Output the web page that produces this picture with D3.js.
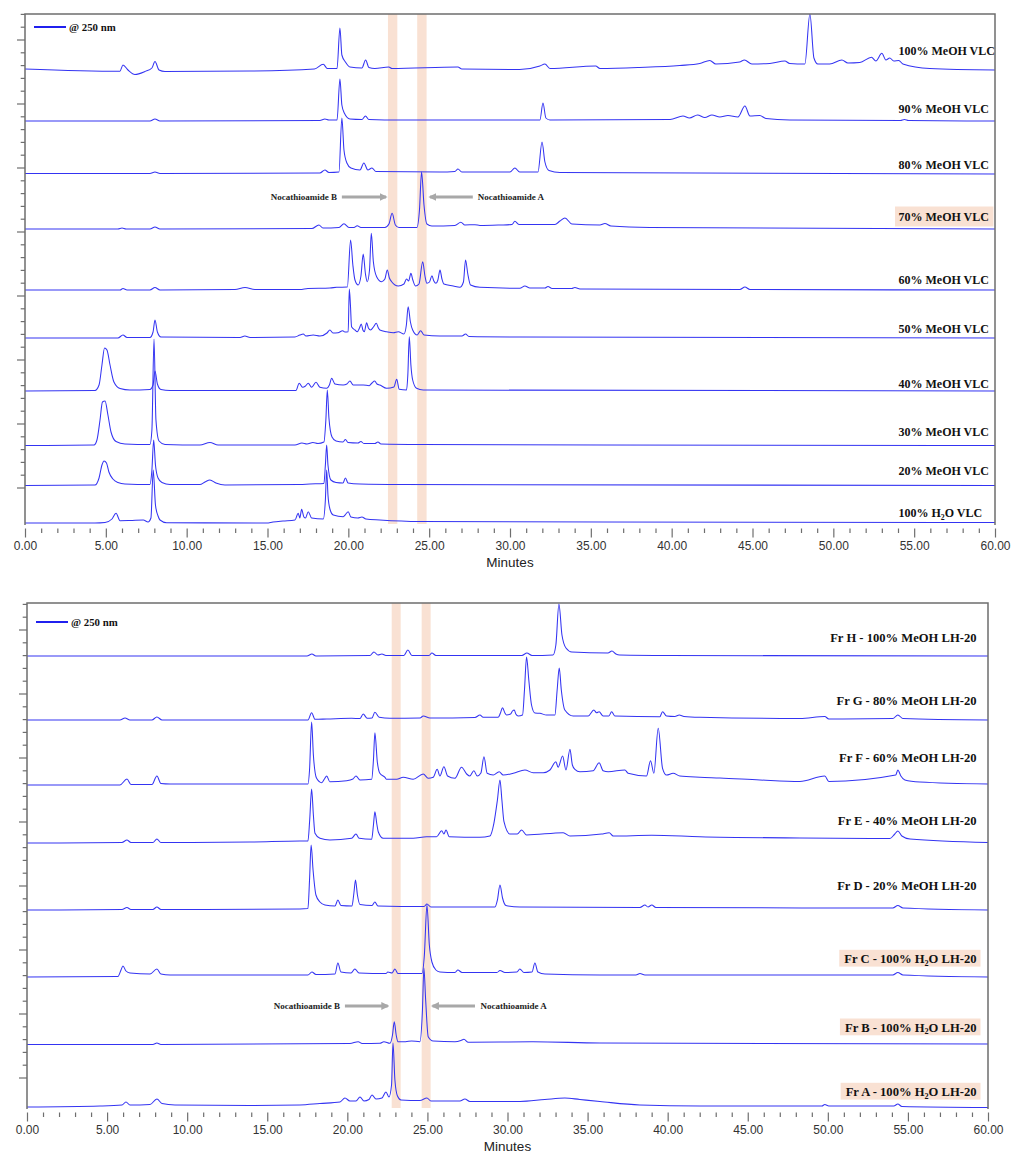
<!DOCTYPE html>
<html>
<head>
<meta charset="utf-8">
<script src="https://cdn.jsdelivr.net/npm/d3@7"></script>
<style>
    body { margin: 0; background: #fff; }
    svg text { font-family: "Liberation Serif", "Times New Roman", serif; }
    .axis text { font-family: "Liberation Sans", Arial, sans-serif; fill: #333; }
</style>
</head>
<body>
<div id="chart"></div>
<script>
"use strict"

/*
    two stacked HPLC panels (VLC fractions, LH-20 fractions) @ 250 nm
    each trace: [minutes, height above its own baseline]
*/

// ---- VLC fractions (top panel) ----
const vlcLabels = ["100% MeOH VLC", "90% MeOH VLC", "80% MeOH VLC", "70% MeOH VLC", "60% MeOH VLC",
                   "50% MeOH VLC", "40% MeOH VLC", "30% MeOH VLC", "20% MeOH VLC", "100% H2O VLC"]
const vlcBase = [454, 403, 350, 295, 234, 186, 133, 78.5, 38.5, 1]
const vlcBoxed = [false, false, false, true, false, false, false, false, false, false]
const vlcBands = [[22.45, 23.03], [24.26, 24.84]]

const meoh100 = [[0,1],[5.87,-1.3],[6.06,5],[6.37,0],[6.8,-4.5],[7.42,-1.5],[7.85,2],[8.04,8.5],[8.29,0],[8.66,-1.5],[13.9,-1],[17.9,1],[18.45,5.7],[18.7,1.5],[19.3,1.5],[19.48,42],[19.6,15],[19.82,8],[20.1,3],[20.84,2],[21.07,10],[21.27,2.5],[21.64,1.5],[22.5,3],[22.7,1.5],[26.78,3],[27.02,1],[30.6,0.5],[31.85,4],[32.16,6],[32.47,1.5],[35.3,4],[35.56,1.5],[38.0,2.5],[40.5,4.5],[41.74,6.5],[42.36,9.5],[42.73,6],[44.2,8],[44.5,10],[44.96,6],[46.07,6.5],[47.0,9],[47.3,6.5],[48.24,6],[48.55,56],[48.8,12],[49.04,6],[49.78,6],[50.53,10],[50.9,7],[51.64,7.5],[52.36,12.7],[52.63,9],[53.0,16.7],[53.25,10],[53.49,12],[53.74,9],[54.05,9.5],[54.3,6],[55.97,1.5],[60,0]]
const meoh90 = [[0,0],[7.73,0],[8.04,2],[8.35,0],[18.24,0.5],[18.55,2],[18.8,1],[19.3,1],[19.48,42],[19.6,16],[19.75,8],[20.1,2],[20.84,1.5],[21.06,5],[21.27,1.5],[23.2,1],[31.85,1],[32.04,18],[32.22,3],[32.47,1],[39.9,1.5],[40.7,5],[41.1,3],[41.6,6],[42.05,3.5],[42.49,6],[42.98,4],[43.48,5.5],[44.1,4],[44.53,15],[44.84,5],[45.45,5.5],[45.83,2.5],[47.3,1],[54.15,0.5],[54.4,1.5],[54.65,0.5],[60,0]]
const meoh80 = [[0,0.5],[7.73,0.5],[8.04,2],[8.35,0.5],[18.24,1],[18.55,4],[18.8,1.5],[19.42,2],[19.6,56],[19.73,24],[19.91,11],[20.16,6],[20.72,4],[20.96,11],[21.21,4],[21.46,6],[21.71,2.5],[25.66,2],[26.59,2.5],[26.78,5],[27.02,2],[30.0,2],[30.3,6],[30.6,2],[31.73,2],[31.98,32],[32.16,12],[32.41,3.5],[33.09,1.5],[60,0]]
const meoh70 = [[0,0],[5.75,0],[6.0,1],[6.25,0],[7.73,0],[8.04,2],[8.35,0],[17.75,0.5],[18.18,4],[18.43,1],[19.42,1.5],[19.73,5.3],[20.04,1.5],[20.35,1.5],[20.55,3.3],[20.78,1.5],[22.26,1.5],[22.51,5],[22.71,15.7],[22.91,4],[23.13,1.5],[24.24,1.5],[24.4,19],[24.53,57],[24.68,24],[24.86,5],[25.17,3],[26.59,3.5],[26.96,6.7],[27.21,4],[27.83,4.3],[28.14,3.5],[29.38,4],[30.12,4.5],[30.3,7.7],[30.55,4.5],[32.78,4.5],[33.09,8],[33.4,11],[33.83,5],[35.56,4],[35.87,5.5],[36.24,3],[38.65,1.5],[60,0]]
const meoh60 = [[0,0],[5.88,0],[6.06,1.5],[6.31,0],[7.73,0],[8.04,2.5],[8.35,0],[12.99,0.5],[13.61,2.5],[14.22,0.5],[17.01,0.5],[17.5,1.5],[18.86,2],[19.28,2.7],[19.94,3],[20.14,50],[20.28,25],[20.41,10],[20.61,5],[20.78,14],[20.92,36],[21.06,16],[21.17,8.3],[21.31,20],[21.42,56.7],[21.55,28],[21.75,13.3],[22.06,8.3],[22.26,11],[22.41,20],[22.54,12],[22.68,8.3],[23.09,4],[23.44,6],[23.6,11],[23.73,9],[23.87,16.7],[23.99,10],[24.16,4],[24.37,6],[24.6,28.3],[24.74,14],[24.86,6.7],[25.02,8],[25.17,14.3],[25.29,9],[25.42,6.7],[25.54,10],[25.67,20],[25.79,11],[25.91,6],[26.49,4],[26.9,2.7],[27.12,8],[27.25,30],[27.39,16],[27.56,5],[28.14,2.7],[30.61,1.7],[30.92,4],[31.23,2],[32.16,2],[32.35,3.5],[32.6,1.5],[33.82,1.5],[34.01,2.5],[34.33,1],[44.22,0.5],[44.53,3],[44.84,0.5],[60,0]]
const meoh50 = [[0,0],[5.75,0],[6.06,3],[6.31,0.5],[7.73,0.5],[7.92,6],[8.04,18],[8.19,6],[8.41,1],[13.3,0.5],[13.6,2],[13.92,0.5],[16.7,1],[17.0,3],[17.21,4],[17.38,2],[17.83,3],[18.24,2],[18.68,5],[18.86,8],[19.05,5],[19.36,5.3],[19.65,7.3],[19.79,6],[19.99,6.3],[20.06,49],[20.13,33],[20.2,11.3],[20.41,8],[20.55,6.3],[20.69,10],[20.8,14],[20.9,8],[20.99,6.3],[21.13,15.3],[21.24,10],[21.38,8],[21.55,11],[21.73,14.7],[21.86,10],[21.95,8],[22.37,6.3],[22.78,5.3],[23.09,6.3],[23.44,4],[23.59,13],[23.7,31.3],[23.84,16],[23.98,8],[24.26,3],[24.47,7.3],[24.68,3],[25.66,2],[27.03,2],[27.25,4],[27.46,1.5],[30.6,1],[60,0]]
const meoh40 = [[0,0],[4.33,0.5],[4.58,6],[4.76,26],[4.92,43],[5.07,41],[5.26,26],[5.5,9],[5.88,2.5],[6.49,1],[7.73,1.5],[7.92,6],[8.04,20],[8.19,7],[8.41,1.5],[8.97,0.5],[16.76,0.5],[16.96,7.7],[17.17,3.7],[17.35,5],[17.52,7.7],[17.73,3.7],[18.0,8.7],[18.24,3.7],[18.66,2.7],[18.83,6],[18.97,12.7],[19.17,7],[19.68,6],[19.91,7],[20.1,10],[20.3,6],[20.92,6],[21.29,5.3],[21.46,8],[21.63,10],[21.77,7],[21.95,6],[22.37,2.7],[22.82,4],[22.99,11.7],[23.15,1.7],[23.6,1],[23.68,16],[23.77,54.3],[23.87,26],[23.98,11],[24.22,2.7],[24.63,1],[60,0]]
const meoh30 = [[0,0],[4.27,0.5],[4.45,5.5],[4.64,25.5],[4.79,43.5],[4.95,44.5],[5.13,30.5],[5.32,13.5],[5.63,4],[6.18,1.5],[7.73,1],[7.85,15.5],[7.98,106.5],[8.1,25.5],[8.29,4.5],[8.66,1],[10.82,0.5],[11.44,3],[11.94,0.5],[16.7,0.5],[17.13,2.5],[17.44,1.5],[17.81,3],[18.12,2],[18.49,3.5],[18.61,25.5],[18.7,55.5],[18.8,27.5],[18.99,8.5],[19.24,4.5],[19.67,3.5],[19.82,6],[19.98,3],[20.59,2.5],[20.78,4],[20.96,2],[21.64,2],[21.83,3.5],[22.02,1.5],[24.43,1],[60,0]]
const meoh20 = [[0,0],[4.33,0.5],[4.58,7.5],[4.76,20.5],[4.89,24.5],[5.04,22.5],[5.19,13.5],[5.44,6.5],[5.75,3],[6.18,1.5],[7.73,1],[7.85,15.5],[7.96,45.5],[8.07,20.5],[8.23,7.5],[8.47,3],[8.97,1],[10.82,1],[11.13,3.5],[11.44,5.5],[11.81,2.5],[12.37,0.5],[17.0,1],[17.62,1.5],[18.49,2],[18.58,20.5],[18.66,40.5],[18.74,20.5],[18.92,5.5],[19.24,3],[19.67,2.5],[19.82,7.5],[19.98,2.5],[20.72,1.5],[23.19,1],[60,0]]
const h2oVlc = [[0,0],[4.33,0],[4.95,0.5],[5.38,4],[5.63,9.7],[5.88,2.3],[6.49,2.5],[7.32,3],[7.61,1],[7.79,5],[7.93,53],[8.07,18],[8.23,7],[8.35,3],[8.76,0.3],[14.95,0],[15.34,1],[15.96,2],[16.7,3],[16.9,9.7],[17.0,5],[17.11,13.7],[17.25,6],[17.35,5],[17.52,11.3],[17.73,5],[18.45,4],[18.58,23],[18.66,53],[18.74,28],[18.86,14],[19.07,8],[19.68,6.3],[19.85,9],[19.99,11.3],[20.16,6],[20.59,5],[20.84,6],[21.09,4],[21.95,3],[24.43,1.5],[60,0.5]]
const vlcTraces = [meoh100, meoh90, meoh80, meoh70, meoh60, meoh50, meoh40, meoh30, meoh20, h2oVlc]

// ---- LH-20 fractions (bottom panel) ----
const lhLabels = ["Fr H - 100% MeOH LH-20", "Fr G - 80% MeOH LH-20", "Fr F - 60% MeOH LH-20", "Fr E - 40% MeOH LH-20",
                  "Fr D - 20% MeOH LH-20", "Fr C - 100% H2O LH-20", "Fr B - 100% H2O LH-20", "Fr A - 100% H2O LH-20"]
const lhBase = [452, 388, 323, 265, 198, 131, 64, 1]
const lhBoxed = [false, false, false, false, false, true, true, true]
const lhBands = [[22.77, 23.33], [24.64, 25.2]]

const frH = [[0,0],[17.48,0],[17.79,2],[18.04,0],[21.41,0.5],[21.66,4],[21.91,1],[22.16,2],[22.41,0.5],[23.53,0.5],[23.78,6],[24.03,0.5],[25.1,0.5],[25.28,3],[25.53,0.5],[30.9,0.5],[31.21,3],[31.53,0.5],[32.84,1],[33.02,11],[33.21,52],[33.4,21],[33.65,8],[34.02,4],[36.27,3],[36.52,5],[36.77,2],[37.0,1],[40.0,0.5],[60,0]]
const frG = [[0,0],[5.8,0],[6.12,2],[6.43,0],[7.8,0],[8.11,3],[8.43,0],[17.54,0],[17.77,7.3],[17.98,0.7],[18.71,1],[20.27,1.7],[20.79,1.5],[20.99,6],[21.24,1.7],[21.54,2],[21.72,7.7],[21.99,2.7],[22.66,1.7],[24.54,2],[24.74,4],[25.16,2],[27.97,2.5],[28.28,5],[28.48,2.7],[29.42,2.7],[29.56,7],[29.69,12.3],[29.84,7],[29.94,5],[30.19,6],[30.31,9],[30.42,10],[30.52,6],[30.67,4],[30.94,5],[31.06,30],[31.19,63],[31.33,40],[31.5,15],[31.71,7],[32.02,6.7],[32.44,5],[32.96,5],[33.1,30],[33.23,52],[33.36,30],[33.58,10],[34.1,4],[35.04,4],[35.39,10],[35.56,7.3],[35.72,8.3],[35.97,4],[36.33,4],[36.5,8.3],[36.7,4],[39.51,3.3],[39.68,8.3],[39.93,4],[40.45,3.5],[40.72,5],[41.02,3.5],[42.01,2.7],[48.26,1.5],[49.81,3.5],[50.06,1],[54.06,1.5],[54.37,5],[54.69,1.5],[60,0]]
const frF = [[0,0],[5.8,0],[6.24,6],[6.49,0.5],[7.8,0.5],[8.11,9],[8.36,1.5],[8.93,1],[17.54,1],[17.64,15],[17.77,63],[17.88,30],[18.08,6.7],[18.4,2.3],[18.57,6],[18.71,9],[18.91,3.3],[19.96,4.3],[20.35,6],[20.54,9],[20.79,5],[21.52,5.7],[21.63,25],[21.72,52.3],[21.87,23.3],[22.03,11.7],[22.35,7.7],[22.45,5.7],[23.08,5.7],[23.49,7.7],[24.11,5.7],[24.74,11],[25.05,6.7],[25.36,7.7],[25.61,15.7],[25.78,9],[26.03,18.3],[26.26,9],[26.72,6.7],[27.13,17.7],[27.45,11],[27.65,9],[27.9,14.3],[28.11,9],[28.34,12],[28.53,28.3],[28.73,11.7],[29.11,10],[29.48,13.3],[29.73,10],[30.36,11.7],[31.09,15],[31.6,12.3],[32.23,12.3],[32.65,15],[33.02,23.3],[33.16,17.7],[33.44,29],[33.65,15],[33.9,35.7],[34.05,20],[34.21,15.7],[34.52,13.3],[35.35,14.3],[35.72,22.3],[35.97,14.3],[36.29,13.3],[37.33,15],[37.53,11.7],[38.68,9],[38.93,24.3],[39.14,11.7],[39.41,56.7],[39.68,16.7],[39.93,10],[40.34,11.7],[40.76,9],[42.01,7.7],[43.26,7],[45.76,5],[48.25,3.5],[49.81,9],[50.06,3.5],[54.24,10],[54.37,15],[54.56,9],[54.81,5],[55.75,3],[60,1]]
const frE = [[0,0],[5.93,0.5],[6.24,3],[6.49,0.5],[7.86,0.5],[8.11,4],[8.36,0.5],[13.92,1],[17.04,2],[17.54,2],[17.65,23],[17.77,54],[17.88,28],[17.98,9.7],[18.29,4.7],[18.91,3],[20.27,4.7],[20.54,9],[20.74,4.7],[21.52,3.7],[21.63,18],[21.72,31.3],[21.85,18],[21.93,11.3],[22.24,4.7],[24.11,4.7],[24.95,6.3],[25.57,6.3],[25.89,12.3],[26.03,9],[26.16,13],[26.36,6.3],[28.28,5.7],[28.9,7],[29.15,19.7],[29.37,43],[29.53,63],[29.65,43],[29.78,21.3],[30.15,9],[30.61,9],[30.88,13],[31.19,8],[33.48,10.3],[33.9,7],[35.87,9],[36.35,10.3],[36.6,7],[39.0,7.7],[42.01,6.3],[48.26,5],[53.88,4.5],[54.18,9],[54.37,12],[54.62,7],[55.13,4],[60,0.5]]
const frD = [[0,0],[5.93,0.5],[6.24,2.5],[6.49,0.5],[7.86,0.5],[8.11,3],[8.36,0.5],[17.04,1],[17.54,1.5],[17.64,30],[17.74,65],[17.86,40],[18.04,15],[18.29,8],[18.6,5],[19.23,4],[19.41,10],[19.6,4.5],[20.29,4],[20.41,17],[20.51,30],[20.63,15],[20.79,5.5],[21.54,4.5],[21.72,8],[21.91,4],[24.79,3.5],[24.97,6],[25.22,3],[29.22,3],[29.37,10],[29.53,25],[29.69,12],[29.9,4.5],[30.78,3],[38.27,2.5],[38.58,5],[38.77,3],[39.01,5],[39.26,2.5],[54.06,2],[54.37,4.5],[54.69,2],[60,0]]
const frC = [[0,0],[5.68,0.5],[5.87,7],[5.99,11],[6.18,6],[6.43,4],[7.68,3],[8.11,8],[8.36,3],[8.93,2],[17.54,2],[17.79,5],[18.04,2.5],[19.23,3],[19.41,14],[19.6,5],[20.23,4],[20.47,8],[20.73,4],[22.41,3.5],[22.53,5],[22.79,4],[22.97,8],[23.16,3.5],[24.66,3.5],[24.81,22],[24.97,72],[25.12,32],[25.28,15],[25.53,7],[25.78,5],[26.72,4.5],[26.9,7],[27.16,4.5],[29.34,4.5],[29.53,6.5],[29.84,4.5],[30.59,5],[30.77,8],[31.03,4.5],[31.53,5],[31.71,14],[31.9,5],[32.34,3],[35.77,2],[38.02,2],[38.27,3.5],[38.58,2],[54.06,2],[54.37,4.5],[54.69,2],[60,0]]
const frB = [[0,-0.5],[7.86,-0.5],[8.11,1],[8.36,-0.5],[20.16,0.5],[20.68,2.3],[20.92,0.5],[22.04,0.7],[22.28,2.3],[22.66,0.7],[22.82,9],[22.93,22.3],[23.05,9],[23.16,2.3],[23.64,2.3],[24.01,3],[24.53,2.3],[24.69,34],[24.78,76],[24.89,44],[25.05,7.3],[25.36,3],[26.72,2.3],[27.09,3.5],[27.28,4.7],[27.55,1.7],[31.6,2.3],[35.77,1],[60,0]]
const frA = [[0,0],[4.56,1],[5.93,2],[6.18,5],[6.43,2],[7.68,2.5],[8.11,8],[8.43,3.5],[9.24,2],[13.92,1.5],[17.04,2],[18.29,3.5],[19.54,5],[19.85,9],[20.16,6],[20.54,6],[20.79,10],[21.04,6],[21.35,7.5],[21.54,12],[21.79,8],[22.16,9],[22.41,15],[22.6,10],[22.76,22],[22.85,64],[22.97,27],[23.13,11],[23.35,7],[24.53,6.5],[24.97,9],[25.22,6],[27.03,6],[27.34,8],[27.65,5.5],[30.78,5.5],[32.33,7.5],[33.58,9],[34.52,7.5],[35.77,5.5],[38.26,2],[42.01,1],[49.63,1],[49.81,2.5],[50.06,1],[54.12,1],[54.37,3],[54.62,0.5],[60,-0.5]]
const lhTraces = [frH, frG, frF, frE, frD, frC, frB, frA]

// axis
const xMajor = d3.range(0, 61, 5)
const xMinor = d3.range(0, 61, 1).filter(d => d % 5 !== 0)

// ---------------- drawing ----------------
const W = 1011, H = 1155
const traceColor = "#3434f2"
const frameColor = "#6e6e6e"
const peach = "#f9e1d3"
const arrowGrey = "#a8a8a8"

const svg = d3.select("#chart").append("svg")
    .attr("width", W).attr("height", H)
    .attr("viewBox", `0 0 ${ W } ${ H }`)

svg.append("defs").append("marker")
    .attr("id", "head")
    .attr("markerUnits", "userSpaceOnUse")
    .attr("viewBox", "0 0 10 10")
    .attr("refX", 8).attr("refY", 5)
    .attr("markerWidth", 8).attr("markerHeight", 8)
    .attr("orient", "auto")
  .append("path")
    .attr("d", "M0,0 L10,5 L0,10 Z")
    .attr("fill", arrowGrey)

const panels = [
    {
        key: "vlc", l: 25, r: 995, t: 14, b: 524, vmax: 510, tick0: 36,
        labels: vlcLabels, bases: vlcBase, traces: vlcTraces, boxed: vlcBoxed, bands: vlcBands,
        lift: [15, 8.3, 5, 8.5, 6, 5, 3, 9.7, 10.5, 6],
        anchor: "start", labelX: 898.5, fontSize: 12, boxUp: 14, boxDown: 6, padL: 3.5, padR: 4.5,
        legend: { x: 34, y: 27 },
        arrows: { v: 327, bTail: 19.6, bHead: 22.33, bText: 19.3, aTail: 27.7, aHead: 25.05, aText: 28.0 },
        tickLabelY: 549.5, minutesY: 567
    },
    {
        key: "lh", l: 27, r: 988, t: 603, b: 1108, vmax: 505, tick0: 30,
        labels: lhLabels, bases: lhBase, traces: lhTraces, boxed: lhBoxed, bands: lhBands,
        lift: [14, 15, 23, 18, 20, 14, 12.3, 11],
        anchor: "end", labelX: 976.5, fontSize: 12.6, boxUp: 13.2, boxDown: 3.6, padL: 5, padR: 4,
        legend: { x: 36, y: 622 },
        arrows: { v: 102, bTail: 19.85, bHead: 22.52, bText: 19.54, aTail: 27.97, aHead: 25.32, aText: 28.32 },
        tickLabelY: 1133.5, minutesY: 1151
    }
]

function writeLabel(sel, str) {
    const parts = str.split("H2O")
    if (parts.length === 1) { sel.text(str); return }
    sel.append("tspan").text(parts[0] + "H")
    sel.append("tspan").attr("font-size", "0.65em").attr("dy", 2.5).text("2")
    sel.append("tspan").attr("dy", -2.5).text("O" + parts[1])
}

panels.forEach(p => {
    const x = d3.scaleLinear().domain([0, 60]).range([p.l, p.r])
    const y = d3.scaleLinear().domain([0, p.vmax]).range([p.b, p.t])
    const g = svg.append("g").attr("class", p.key)

    // highlight bands
    g.selectAll(".band")
        .data(p.bands)
        .enter().append("rect")
            .attr("class", "band")
            .attr("x", d => x(d[0]))
            .attr("width", d => x(d[1]) - x(d[0]))
            .attr("y", p.t)
            .attr("height", p.b - p.t)
            .attr("fill", peach)

    // traces
    g.append("clipPath").attr("id", `clip-${ p.key }`)
        .append("rect").attr("x", p.l).attr("y", p.t).attr("width", p.r - p.l).attr("height", p.b - p.t + 2)

    const line = (base) => d3.line()
        .x(d => x(d[0]))
        .y(d => y(base + d[1]))
        .curve(d3.curveMonotoneX)

    g.append("g")
        .attr("clip-path", `url(#clip-${ p.key })`)
        .selectAll(".trace")
        .data(p.traces)
        .enter().append("path")
            .attr("class", "trace")
            .attr("d", (d, i) => line(p.bases[i])(d))
            .attr("fill", "none")
            .attr("stroke", traceColor)
            .attr("stroke-width", 1.05)
            .attr("stroke-linejoin", "round")

    // frame (open at the bottom)
    g.append("path")
        .attr("d", `M${ p.l },${ p.b + 1 }V${ p.t }H${ p.r }V${ p.b + 1 }`)
        .attr("fill", "none")
        .attr("stroke", frameColor)
        .attr("stroke-width", 1.5)

    // y ticks (unlabelled)
    const yTicks = d3.range(p.tick0, p.vmax + 0.01, 12.8)
    g.selectAll(".ytick")
        .data(yTicks)
        .enter().append("line")
            .attr("class", "ytick")
            .attr("x1", (d, i) => p.l - (i % 5 === 0 ? 8 : 4.3))
            .attr("x2", p.l)
            .attr("y1", d => y(d)).attr("y2", d => y(d))
            .attr("stroke", frameColor)
            .attr("stroke-width", 1.2)

    // x axis
    const axTop = p.b + 4.5
    g.append("g")
        .attr("class", "axis")
        .attr("transform", `translate(0, ${ axTop })`)
        .call(d3.axisBottom(x).tickValues(xMajor).tickSize(9).tickPadding(3).tickFormat(d3.format(".2f")))
        .call(a => a.select(".domain").remove())
        .call(a => a.selectAll("line").attr("stroke", frameColor).attr("stroke-width", 1.2))
        .call(a => a.selectAll("text").attr("font-size", 12).attr("y", null).attr("dy", null)
                     .attr("transform", `translate(0, ${ p.tickLabelY - axTop })`))
    g.append("g")
        .attr("class", "axis minor")
        .attr("transform", `translate(0, ${ axTop })`)
        .call(d3.axisBottom(x).tickValues(xMinor).tickSize(4.5).tickFormat(""))
        .call(a => a.select(".domain").remove())
        .call(a => a.selectAll("line").attr("stroke", frameColor).attr("stroke-width", 1.2))

    g.append("text")
        .attr("class", "axis")
        .attr("x", (p.l + p.r) / 2)
        .attr("y", p.minutesY)
        .attr("text-anchor", "middle")
        .attr("font-size", 13.5)
        .style("font-family", "'Liberation Sans', Arial, sans-serif")
        .attr("fill", "#222")
        .text("Minutes")

    // trace labels
    p.labels.forEach((lab, i) => {
        const by = y(p.bases[i]) - p.lift[i]
        const lg = g.append("g")
        const t = lg.append("text")
            .attr("x", p.labelX)
            .attr("y", by)
            .attr("text-anchor", p.anchor)
            .attr("font-size", p.fontSize)
            .attr("font-weight", "bold")
            .attr("fill", "#111")
        writeLabel(t, lab)
        if (p.boxed[i]) {
            const bb = t.node().getBBox()
            lg.insert("rect", "text")
                .attr("x", bb.x - p.padL)
                .attr("y", by - p.boxUp)
                .attr("width", bb.width + p.padL + p.padR)
                .attr("height", p.boxUp + p.boxDown)
                .attr("fill", peach)
        }
    })

    // legend
    g.append("line")
        .attr("x1", p.legend.x).attr("x2", p.legend.x + 32)
        .attr("y1", p.legend.y).attr("y2", p.legend.y)
        .attr("stroke", "#2020ee").attr("stroke-width", 2)
    g.append("text")
        .attr("x", p.legend.x + 35).attr("y", p.legend.y + 4)
        .attr("font-size", 10.8).attr("font-weight", "bold").attr("fill", "#111")
        .text("@ 250 nm")

    // Nocathioamide arrows
    const a = p.arrows, ay = y(a.v)
    g.append("line")
        .attr("x1", x(a.bTail)).attr("x2", x(a.bHead)).attr("y1", ay).attr("y2", ay)
        .attr("stroke", arrowGrey).attr("stroke-width", 3.2).attr("marker-end", "url(#head)")
    g.append("line")
        .attr("x1", x(a.aTail)).attr("x2", x(a.aHead)).attr("y1", ay).attr("y2", ay)
        .attr("stroke", arrowGrey).attr("stroke-width", 3.2).attr("marker-end", "url(#head)")
    g.append("text")
        .attr("x", x(a.bText)).attr("y", ay + 3.2)
        .attr("text-anchor", "end").attr("font-size", 9).attr("font-weight", "bold").attr("fill", "#222")
        .text("Nocathioamide B")
    g.append("text")
        .attr("x", x(a.aText)).attr("y", ay + 3.2)
        .attr("text-anchor", "start").attr("font-size", 9).attr("font-weight", "bold").attr("fill", "#222")
        .text("Nocathioamide A")
})
</script>
</body>
</html>
